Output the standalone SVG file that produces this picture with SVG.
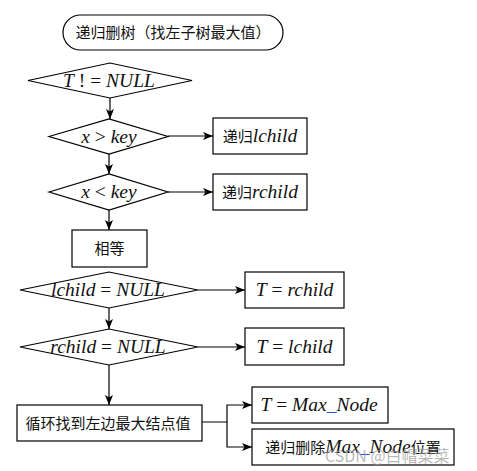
<svg xmlns="http://www.w3.org/2000/svg" width="477" height="471" viewBox="0 0 477 471">
<defs>
<style>
.shape{fill:#fff;stroke:#000;stroke-width:1.2}
.edge{fill:none;stroke:#000;stroke-width:1.2}
.cjk{font-family:"Noto Sans CJK SC","Liberation Serif",sans-serif;font-size:15px;fill:#111}
.m{font-family:"Liberation Serif","DejaVu Serif",serif;font-size:19.5px;fill:#111}
.i{font-style:italic}
.u{fill:#2a4fd6}
</style>
<marker id="arr" viewBox="0 0 10 10" refX="10" refY="5" markerWidth="10" markerHeight="10" markerUnits="userSpaceOnUse" orient="auto">
<path d="M0,1 L10,5 L0,9 L2.5,5 Z" fill="#000"/>
</marker>
</defs>
<rect width="477" height="471" fill="#fff"/>
<g id="connectors">
<path class="edge" d="M110,98 V119" marker-end="url(#arr)"/>
<path class="edge" d="M109,154 V174" marker-end="url(#arr)"/>
<path class="edge" d="M109,210 V230" marker-end="url(#arr)"/>
<path class="edge" d="M168,136 H213" marker-end="url(#arr)"/>
<path class="edge" d="M168,192 H213" marker-end="url(#arr)"/>
<path class="edge" d="M198,290 H245" marker-end="url(#arr)"/>
<path class="edge" d="M109,308 V329" marker-end="url(#arr)"/>
<path class="edge" d="M198,347 H245" marker-end="url(#arr)"/>
<path class="edge" d="M109,365 V405" marker-end="url(#arr)"/>
<path class="edge" d="M202,422 H227 V405 H252" marker-end="url(#arr)"/>
<path class="edge" d="M227,422 V447 H252" marker-end="url(#arr)"/>
</g>
<g id="start">
<rect class="shape" x="63" y="15" width="220" height="35" rx="17.5"/>
<text class="cjk" x="173" y="38" text-anchor="middle" font-size="17">递归删树（找左子树最大值）</text>
</g>
<g id="d1">
<polygon class="shape" points="28,80.5 110,63 192,80.5 110,98"/>
<text class="m" x="109" y="87" text-anchor="middle"><tspan class="i">T</tspan> ! = <tspan class="i">NULL</tspan></text>
</g>
<g id="d2">
<polygon class="shape" points="49,136.5 109,119 168,136.5 109,154"/>
<text class="m" x="109" y="143" text-anchor="middle"><tspan class="i">x</tspan> &gt; <tspan class="i">key</tspan></text>
</g>
<g id="b1">
<rect class="shape" x="213" y="118" width="94" height="36"/>
<text x="260" y="142" text-anchor="middle"><tspan class="cjk">递归</tspan><tspan class="m i">lchild</tspan></text>
</g>
<g id="d3">
<polygon class="shape" points="49,192 109,174 168,192 109,210"/>
<text class="m" x="109" y="198" text-anchor="middle"><tspan class="i">x</tspan> &lt; <tspan class="i">key</tspan></text>
</g>
<g id="b2">
<rect class="shape" x="213" y="174" width="94" height="36"/>
<text x="260" y="198" text-anchor="middle"><tspan class="cjk">递归</tspan><tspan class="m i">rchild</tspan></text>
</g>
<g id="b3">
<rect class="shape" x="72" y="230" width="75" height="37"/>
<text class="cjk" x="109.5" y="254" text-anchor="middle" font-size="16">相等</text>
</g>
<g id="d4">
<polygon class="shape" points="20,290 109,272 198,290 109,308"/>
<text class="m" x="108" y="296" text-anchor="middle"><tspan class="i">lchild</tspan> = <tspan class="i">NULL</tspan></text>
</g>
<g id="b4">
<rect class="shape" x="245" y="272" width="99" height="36"/>
<text class="m" x="294.5" y="296" text-anchor="middle"><tspan class="i">T</tspan> = <tspan class="i">rchild</tspan></text>
</g>
<g id="d5">
<polygon class="shape" points="20,347 109,329 198,347 109,365"/>
<text class="m" x="108" y="353" text-anchor="middle"><tspan class="i">rchild</tspan> = <tspan class="i">NULL</tspan></text>
</g>
<g id="b5">
<rect class="shape" x="245" y="328" width="99" height="37"/>
<text class="m" x="294.5" y="353" text-anchor="middle"><tspan class="i">T</tspan> = <tspan class="i">lchild</tspan></text>
</g>
<g id="b6">
<rect class="shape" x="17" y="405" width="185" height="36"/>
<text class="cjk" x="108" y="429" text-anchor="middle" font-size="16.5">循环找到左边最大结点值</text>
</g>
<g id="b7">
<rect class="shape" x="252" y="387" width="136" height="36"/>
<text class="m" x="319" y="411" text-anchor="middle"><tspan class="i">T</tspan> = <tspan class="i">Max</tspan><tspan class="u">_</tspan><tspan class="i">Node</tspan></text>
</g>
<g id="b8">
<rect class="shape" x="252" y="429" width="202" height="36"/>
<text x="353" y="453" text-anchor="middle"><tspan class="cjk">递归删除</tspan><tspan class="m i">Max</tspan><tspan class="m u">_</tspan><tspan class="m i">Node</tspan><tspan class="cjk">位置</tspan></text>
</g>
<text x="325" y="462" font-family="'Noto Sans CJK SC',sans-serif" font-size="16" fill="#999" fill-opacity="0.7">CSDN @白帽菜菜</text>
</svg>
